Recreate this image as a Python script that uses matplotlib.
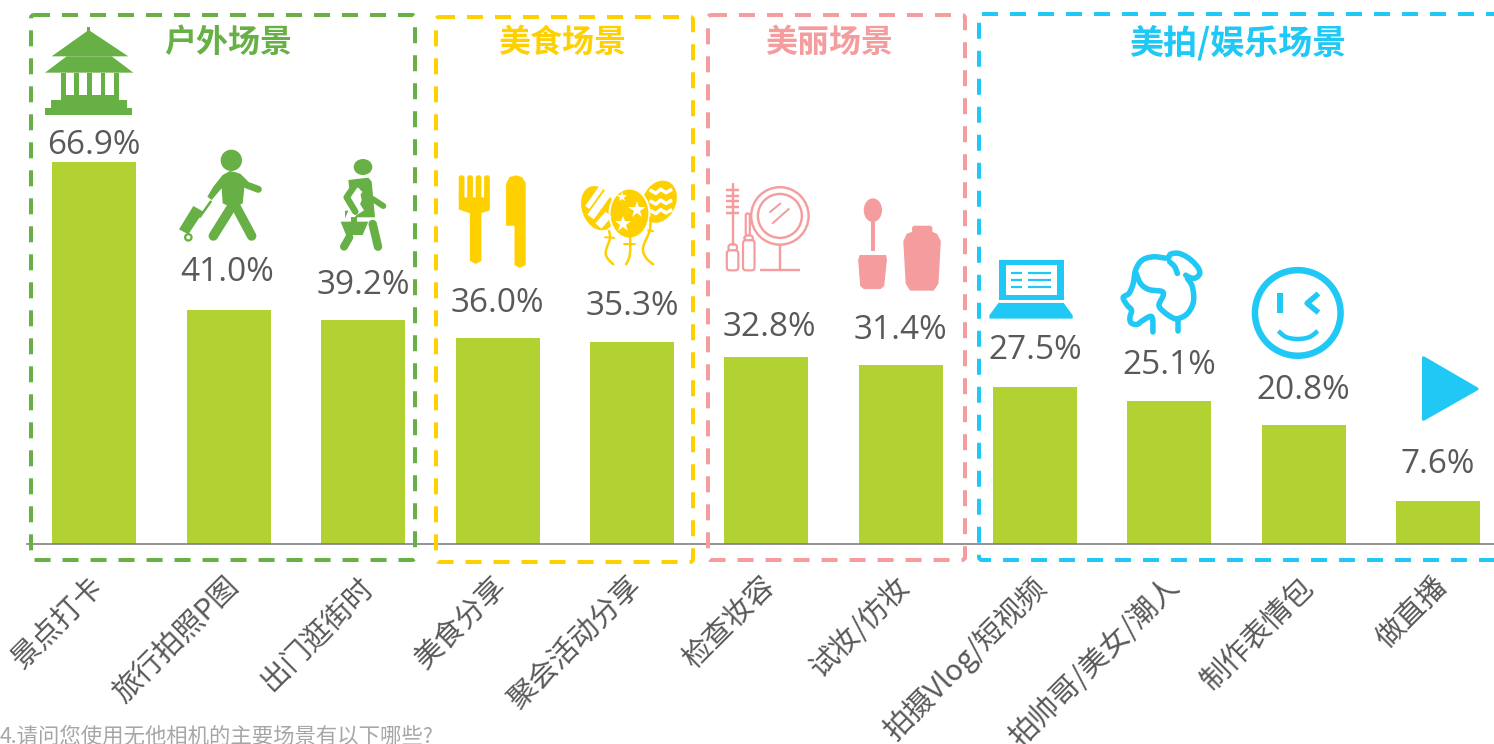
import matplotlib
matplotlib.use('Agg')
import matplotlib.pyplot as plt
import numpy as np
from matplotlib.patches import Circle, Ellipse, FancyBboxPatch, Polygon, Rectangle
from matplotlib.transforms import ScaledTranslation

plt.rcParams['font.family'] = ['Noto Sans CJK SC', 'DejaVu Sans']

categories = ['景点打卡', '旅行拍照P图', '出门逛街时', '美食分享', '聚会活动分享', '检查妆容',
              '试妆/仿妆', '拍摄Vlog/短视频', '拍帅哥/美女/潮人', '制作表情包', '做直播']
values = [66.9, 41.0, 39.2, 36.0, 35.3, 32.8, 31.4, 27.5, 25.1, 20.8, 7.6]
group_names = ['户外场景', '美食场景', '美丽场景', '美拍/娱乐场景']

# gap between bar top and label centre, px (the labels were placed by hand in the original)
label_gaps = [16, 37, 35, 35, 36, 29, 34, 36, 35, 35, 36]
label_shift = [-1, -2, 0, 0, 0, 3, 0, 0, 0, 0, 0]

BAR = '#B1D232'
GREEN = '#66B045'
YELLOW = '#FFD000'
PINK = '#F59C9E'
BLUE = '#1FC8F5'
TEXT = '#595959'

W, H = 1494, 744
PX_PER_UNIT = 382 / 66.9
SLOT = 134.35
LEFT = 27.3
BASE = 544

fig = plt.figure(figsize=(W / 100, H / 100), dpi=100, facecolor='white')
ax = fig.add_axes([LEFT / W, (H - BASE) / H, (W - LEFT) / W, BASE / H])
ax.set_xlim(-0.5, (W - LEFT) / SLOT - 0.5)
ax.set_ylim(0, BASE / PX_PER_UNIT)
ax.bar(range(len(values)), values, width=84 / SLOT, color=BAR)
for s in ['top', 'left', 'right']:
    ax.spines[s].set_visible(False)
ax.spines['bottom'].set_color('#808080')
ax.spines['bottom'].set_linewidth(1.2)
ax.set_yticks([])
ax.set_xticks(range(len(categories)))
ax.set_xticklabels(categories, rotation=45, ha='right', va='top', rotation_mode='anchor',
                   fontsize=21, color=TEXT)
ax.tick_params(axis='x', length=0, pad=20)
nudge = ScaledTranslation(-0.05, 0, fig.dpi_scale_trans)
for lab in ax.get_xticklabels():
    lab.set_transform(lab.get_transform() + nudge)

for i, v in enumerate(values):
    ax.annotate(f'{v:.1f}%', (i, v), xytext=(label_shift[i] * 0.72, label_gaps[i] * 0.72),
                textcoords='offset points', ha='center', va='center',
                fontsize=24, color=TEXT, family='Open Sans')

# overlay in pixel coordinates for the frames and pictograms
ov = fig.add_axes([0, 0, 1, 1])
ov.set_xlim(0, W)
ov.set_ylim(H, 0)
ov.axis('off')
ov.patch.set_alpha(0)


def frame(x0, y0, x1, y1, color):
    ov.add_patch(FancyBboxPatch((x0, y0), x1 - x0, y1 - y0, boxstyle='round,pad=0,rounding_size=3',
                                fill=False, ec=color, lw=4 * 0.72, ls=(0, (4, 3)), capstyle='butt'))


frame(31, 15, 415, 560, GREEN)
frame(436, 17, 693, 562, YELLOW)
frame(708, 15, 965, 560, PINK)
frame(979, 14, 1510, 560, BLUE)

for name, x, c, fs in zip(group_names, [228, 562, 829, 1238], [GREEN, YELLOW, PINK, BLUE], [23, 23, 23, 24.5]):
    ov.text(x, 43, name, ha='center', va='center', fontsize=fs, fontweight='bold', color=c)

ov.text(0, 737, '4.请问您使用无他相机的主要场景有以下哪些?', ha='left', va='center',
        fontsize=15.4, color='#A6A6A6')


def smooth(pts, n=12):
    # catmull-rom through the hand-read outline points
    a = np.array(pts, dtype=float)
    a = np.vstack([a[0], a, a[-1]])
    out = []
    for i in range(1, len(a) - 2):
        for u in np.linspace(0, 1, n, endpoint=False):
            out.append(0.5 * (2 * a[i] + (a[i + 1] - a[i - 1]) * u
                              + (2 * a[i - 1] - 5 * a[i] + 4 * a[i + 1] - a[i + 2]) * u ** 2
                              + (3 * a[i] - a[i - 1] - 3 * a[i + 1] + a[i + 2]) * u ** 3))
    out.append(a[-2])
    return [tuple(p) for p in out]


class Icon:
    def __init__(self, ox, oy, color, div=3.0):
        self.ox, self.oy, self.color, self.div = ox, oy, color, div

    def pt(self, p):
        return (self.ox + p[0] / self.div, self.oy + p[1] / self.div)

    def poly(self, pts, color=None, round_px=0):
        c = color or self.color
        ov.add_patch(Polygon([self.pt(p) for p in pts], closed=True, fc=c, ec=c if round_px else 'none',
                             lw=round_px * 0.72, joinstyle='round'))

    def line(self, pts, px, color=None, cap='round'):
        xs, ys = zip(*[self.pt(p) for p in pts])
        ov.plot(xs, ys, color=color or self.color, lw=px * 0.72, solid_capstyle=cap, solid_joinstyle='round')

    def circle(self, p, r, fill=True, px=0, color=None):
        c = color or self.color
        ov.add_patch(Circle(self.pt(p), r / self.div, fc=c if fill else 'none', ec=c if not fill else 'none',
                            lw=px * 0.72))

    def ellipse(self, p, w, h, angle=0, color=None):
        ov.add_patch(Ellipse(self.pt(p), w / self.div, h / self.div, angle=angle, fc=color or self.color, ec='none'))

    def rect(self, x0, y0, x1, y1, color=None):
        ov.add_patch(Rectangle(self.pt((x0, y0)), (x1 - x0) / self.div, (y1 - y0) / self.div,
                               fc=color or self.color, ec='none'))

    def rrect(self, x0, y0, x1, y1, px, r=8):
        a, b = self.pt((x0, y0)), self.pt((x1, y1))
        ov.add_patch(FancyBboxPatch(a, b[0] - a[0], b[1] - a[1], boxstyle=f'round,pad=0,rounding_size={r / self.div}',
                                    fc='white', ec=self.color, lw=px * 0.72))


D2, D3 = 2.958, 2.99

# temple
t = Icon(0, 0, GREEN)
t.rect(262, 82, 270, 95)
t.poly([(266, 90), (385, 169), (155, 169)])
t.poly([(200, 169), (335, 169), (400, 218), (135, 218)])
t.rect(183, 218, 357, 300)
for a in [197, 237, 277, 316]:
    t.rect(a, 218, a + 25, 285, 'white')
t.rect(152, 300, 382, 325)
t.rect(136, 325, 396, 345)

# walker with suitcase
w = Icon(0, 0, GREEN)
w.circle((694, 481), 32)
w.poly([(640, 560), (668, 525), (690, 513), (712, 518), (735, 545), (728, 610), (700, 625), (668, 610),
        (665, 565), (635, 600), (622, 590)])
w.line([(715, 530), (740, 555), (775, 568)], 7)
w.line([(695, 620), (640, 708)], 9.5)
w.line([(708, 620), (755, 708)], 9.5)
w.poly([(580, 618), (610, 635), (565, 703), (537, 688)])
w.line([(632, 605), (600, 650)], 2.5)
w.circle((565, 712), 13)
w.circle((565, 712), 6, color='white')

# shopper
s = Icon(0, 0, GREEN)
s.ellipse((1089, 501), 56, 48)
s.poly([(1045, 540), (1105, 533), (1115, 545), (1125, 652), (1065, 652), (1085, 600), (1078, 565), (1048, 565)])
s.line([(1075, 565), (1050, 595), (1078, 640)], 11, 'white', 'butt')
s.line([(1062, 560), (1040, 592), (1066, 635)], 6.5)
s.line([(1118, 597), (1150, 618)], 6)
s.poly([(1035, 632), (1045, 632), (1035, 655)])
s.poly([(1022, 665), (1105, 665), (1088, 705), (1038, 705)])
s.rect(1052, 652, 1072, 665)
s.line([(1048, 712), (1032, 740)], 8)
s.line([(1118, 672), (1134, 740)], 8.5)

# fork and knife
f = Icon(430, 150, YELLOW, D2)
for a in [85, 110, 135, 160]:
    f.poly([(a, 80), (a + 4, 75), (a + 13, 75), (a + 17, 80), (a + 17, 145), (a, 145)])
f.poly([(85, 140), (177, 140), (177, 178), (152, 187), (152, 328), (135, 337), (118, 328), (118, 187), (85, 176)])
f.poly([(225, 100), (235, 80), (254, 75), (272, 80), (283, 97), (283, 340), (266, 349), (250, 340),
        (250, 224), (225, 224)])

# balloons
b = Icon(430, 150, YELLOW, D2)
b.ellipse((497, 172), 95, 135, angle=-20)
b.line([(506, 112), (465, 170)], 5, 'white', 'butt')
b.line([(530, 122), (475, 198)], 8, 'white', 'butt')
b.line([(528, 190), (498, 225)], 8, 'white', 'butt')
b.ellipse((678, 153), 98, 130, angle=25)
for y0 in [118, 150, 178]:
    b.line([(650, y0), (668, y0 + 10), (682, y0 - 2), (698, y0 + 8), (716, y0 - 2)], 3.5, 'white', 'butt')
b.ellipse((590, 188), 124, 152, color='white')
b.ellipse((590, 188), 112, 142)
ov.plot(*b.pt((612, 178)), marker='*', ms=13, color='white', mew=0)
ov.plot(*b.pt((571, 220)), marker='*', ms=12, color='white', mew=0)
ov.plot(*b.pt((568, 140)), marker='*', ms=8, color='white', mew=0)
b.line([(518, 258), (545, 260)], 2)
b.line(smooth([(530, 240), (532, 262), (520, 300), (525, 320), (542, 338)]), 2.5)
b.line([(574, 278), (605, 278)], 2)
b.line(smooth([(592, 258), (592, 300), (588, 322), (580, 338)]), 2.5)
b.line([(645, 238), (660, 240)], 2)
b.line(smooth([(652, 200), (650, 238), (630, 290), (640, 320), (660, 338)]), 2.5)

# mirror and make-up
m = Icon(430, 150, PINK, D2)
m.circle((1035, 195), 85, fill=False, px=2.4)
m.circle((1035, 195), 65, fill=False, px=2.4)
m.line([(1035, 280), (1035, 355)], 2.4)
m.line([(975, 355), (1095, 355)], 2.4, cap='butt')
m.line([(1004, 185), (1038, 157)], 2, cap='butt')
m.line([(1012, 218), (1063, 173)], 2, cap='butt')
m.line([(895, 102), (895, 280)], 2.4)
for y in [118, 135, 152, 168, 185]:
    m.line([(877, y), (915, y)], 2.5, cap='butt')
m.rrect(883, 279, 908, 298, 2.2)
m.rrect(878, 297, 912, 356, 2.2)
m.rrect(934, 188, 946, 254, 2.2, r=5)
m.rrect(930, 253, 955, 268, 2.2)
m.rrect(926, 267, 960, 356, 2.2)

# nail polish
n = Icon(430, 150, PINK, D2)
n.ellipse((1310, 178), 54, 70)
n.rect(1303, 200, 1317, 298)
n.poly([(1272, 312), (1348, 312), (1350, 325), (1342, 402), (1332, 410), (1284, 410), (1274, 402), (1268, 325)],
       round_px=1)
n.poly([(1426, 228), (1432, 224), (1480, 224), (1486, 228), (1486, 242), (1500, 248), (1511, 270), (1504, 395),
        (1490, 416), (1420, 416), (1407, 395), (1400, 270), (1410, 248), (1426, 242)])

# laptop
l = Icon(970, 230, BLUE, D3)
l.rect(87, 90, 280, 210)
l.rect(107, 105, 260, 195, 'white')
for y in [130, 150, 171]:
    l.line([(123, y), (156, y)], 2.2, cap='butt')
    l.line([(172, y), (242, y)], 2.2, cap='butt')
l.poly([(85, 218), (280, 218), (307, 255), (307, 265), (58, 265), (58, 255)])

# head
h = Icon(970, 230, BLUE, D3)
h.line(smooth([(547, 305), (544, 260), (520, 268), (500, 282), (482, 278), (478, 262), (483, 240), (470, 225),
               (458, 202), (475, 190), (488, 160), (495, 120), (515, 90), (550, 80), (590, 84), (600, 72), (625, 70),
               (655, 85), (680, 110), (687, 130), (675, 143), (660, 143), (645, 135)]), 5.5)
h.line(smooth([(495, 125), (510, 160), (535, 178), (572, 183), (578, 195), (565, 225), (580, 245), (605, 262),
               (622, 265), (650, 250), (668, 215), (665, 170), (650, 145)]), 5.5)
h.line([(622, 265), (622, 303)], 5.5)
h.line(smooth([(597, 95), (612, 110), (620, 130)]), 5.5)

# winking face
e = Icon(970, 230, BLUE, D3)
e.circle((980, 248), 128, fill=False, px=6.5)
e.line([(928, 188), (928, 248)], 6, cap='butt')
e.line([(1042, 190), (1008, 219), (1042, 247)], 5.5, cap='butt')
e.line(smooth([(922, 302), (945, 320), (980, 326), (1015, 320), (1040, 302)]), 4.5, cap='butt')

# play button
p = Icon(970, 230, BLUE, D3)
p.poly([(1356, 382), (1516, 475), (1356, 566)], round_px=3)

fig.savefig('out.png', dpi=100)
